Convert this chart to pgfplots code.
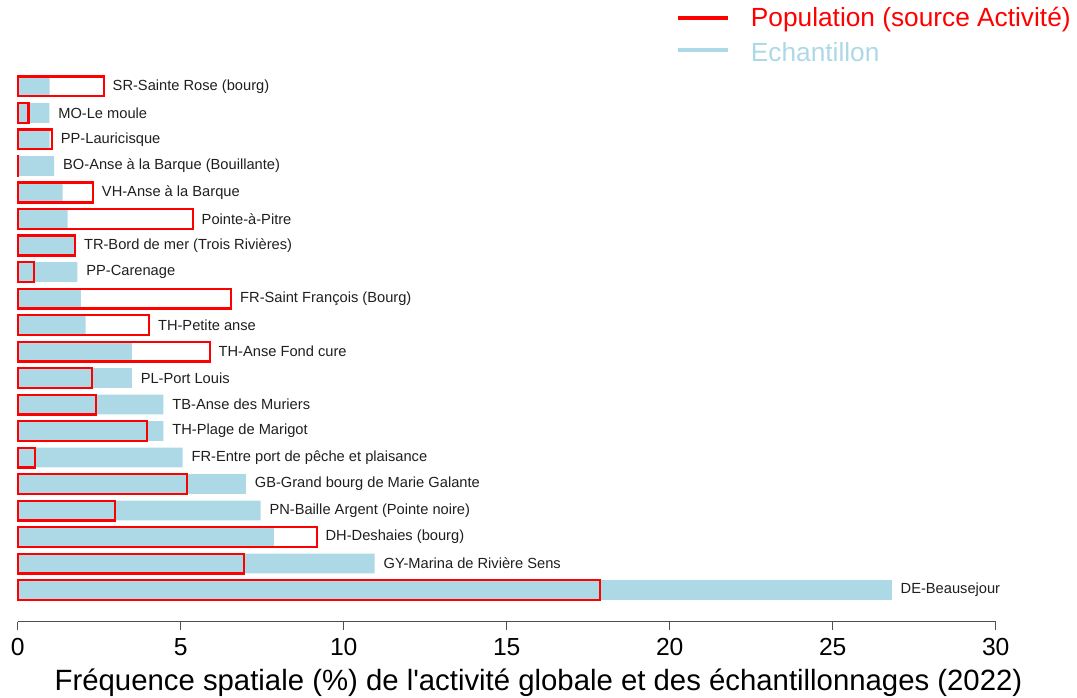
\documentclass[border=0pt]{standalone}
\usepackage{fontspec}
\setmainfont{Liberation Sans}
\usepackage{pgfplots}
\usepackage{pgfplotstable}
\pgfplotsset{compat=1.18}
\definecolor{lb}{HTML}{ADD8E6}
\definecolor{axgray}{HTML}{4D4D4D}

\pgfplotstableread[col sep=comma]{
y,ech,pop,name
20,0.98,2.64,SR-Sainte Rose (bourg)
19,0.97,0.33,MO-Le moule
18,0.98,1.05,PP-Lauricisque
17,1.12,0.02,BO-Anse à la Barque (Bouillante)
16,1.38,2.31,VH-Anse à la Barque
15,1.53,5.37,Pointe-à-Pitre
14,1.74,1.76,TR-Bord de mer (Trois Rivières)
13,1.83,0.49,PP-Carenage
12,1.94,6.55,FR-Saint François (Bourg)
11,2.08,4.03,TH-Petite anse
10,3.50,5.89,TH-Anse Fond cure
9,3.50,2.27,PL-Port Louis
8,4.47,2.40,TB-Anse des Muriers
7,4.47,3.96,TH-Plage de Marigot
6,5.06,0.53,FR-Entre port de pêche et plaisance
5,7.00,5.18,GB-Grand bourg de Marie Galante
4,7.45,2.99,PN-Baille Argent (Pointe noire)
3,7.86,9.17,DH-Deshaies (bourg)
2,10.95,6.95,GY-Marina de Rivière Sens
1,26.81,17.86,DE-Beausejour
}\data

\begin{document}
\begin{tikzpicture}
\path[use as bounding box] (0,0) rectangle (807.75pt,523.5pt);
\begin{axis}[
  at={(13.3pt,57.2pt)}, anchor=south west,
  scale only axis, width=733.5pt, height=421.3pt,
  xmin=0, xmax=30, ymin=-0.196, ymax=21,
  axis y line=none, axis x line*=bottom,
  xtick={0,5,10,15,20,25,30},
  tick align=outside, major tick length=6pt,
  x axis line style={draw=axgray, line width=1.1pt},
  xtick style={draw=axgray, line width=1.1pt},
  /pgf/number format/assume math mode=true,
  xticklabel style={font=\fontsize{18.5}{20}\selectfont, text=black, inner sep=2pt, yshift=-4.5pt},
  xlabel={Fréquence spatiale (\%) de l\textquotesingle activité globale et des échantillonnages (2022)},
  xlabel style={font=\fontsize{22}{24}\selectfont, at={(axis description cs:0.5325,0)}, anchor=center, yshift=-45.5pt},
  clip=false,
]
\addplot[xbar, bar width=0.75, bar shift=0pt, fill=lb, draw=none] table[x=ech, y=y]{\data};
\addplot[xbar, bar width=0.75, bar shift=0pt, fill=none, draw=red, line width=1.6pt] table[x=pop, y=y]{\data};
\addplot[draw=none, mark=none, nodes near coords, point meta=explicit symbolic,
  every node near coord/.style={anchor=west, inner sep=0pt, xshift=6.5pt, font=\fontsize{11}{12}\selectfont, text=black!88}]
  table[x expr={max(\thisrow{ech},\thisrow{pop})}, y=y, meta=name]{\data};
\end{axis}
\draw[red, line width=2.5pt] (508.5pt,510pt) -- (546pt,510pt);
\node[anchor=west, inner sep=0pt, text=red, font=\fontsize{19.7}{21}\selectfont] at (563pt,508.5pt) {Population (source Activité)};
\draw[lb, line width=2.5pt] (508.5pt,486pt) -- (546pt,486pt);
\node[anchor=west, inner sep=0pt, text=lb, font=\fontsize{19.7}{21}\selectfont] at (563pt,484.5pt) {Echantillon};
\end{tikzpicture}
\end{document}
